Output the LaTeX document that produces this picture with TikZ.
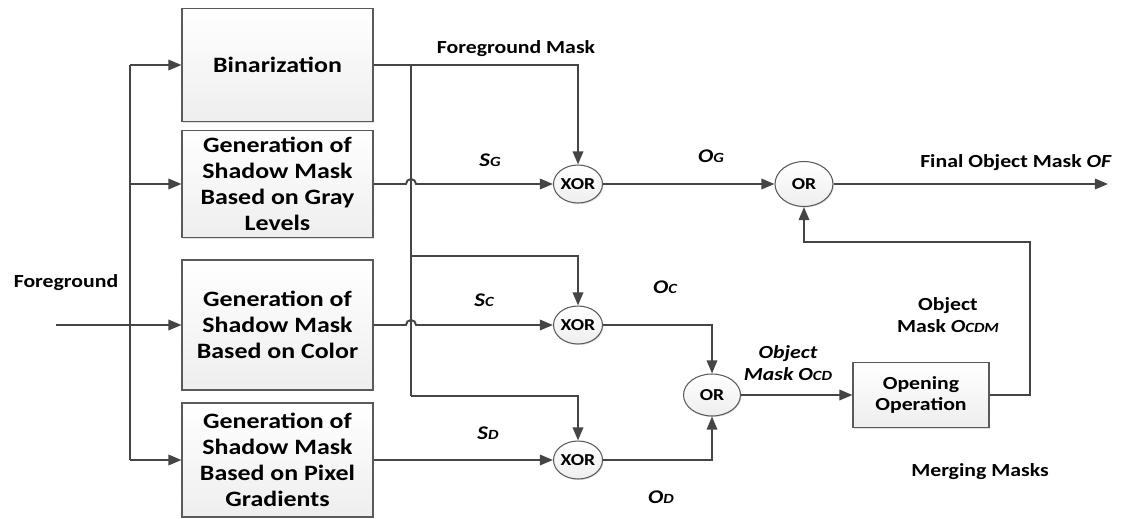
\documentclass[tikz,border=0pt]{standalone}
\usepackage{fontspec}
\setmainfont{Carlito}[FakeStretch=1.18]
\usetikzlibrary{arrows.meta,shapes.geometric,shadows,positioning}

\definecolor{linegray}{HTML}{454545}
\definecolor{edgegray}{HTML}{5A5A5A}
\definecolor{boxgray}{HTML}{EEEEEE}

% signal name with a small capital index
\newcommand{\sigidx}[2]{#1{\fontsize{8}{9}\selectfont #2}}

\tikzset{
    line/.style={draw=linegray, line width=1.1pt},
    arr/.style={line, -{Triangle[length=7.5pt,width=6pt]}},
    procbox/.style={draw=edgegray, line width=0.6pt, top color=white, bottom color=boxgray,
        drop shadow={shadow xshift=0.8pt, shadow yshift=-0.8pt, opacity=0.25},
        align=center, inner sep=0pt, minimum width=3.82cm,
        font=\fontsize{12.5}{14.7}\selectfont\bfseries},
    gate/.style={ellipse, draw=edgegray, line width=0.6pt, top color=white, bottom color=boxgray,
        drop shadow={shadow xshift=0.6pt, shadow yshift=-0.6pt, opacity=0.25},
        inner sep=0pt, font=\fontsize{9.5}{11}\selectfont\bfseries},
    lbl/.style={align=center, inner sep=0pt, font=\fontsize{10.5}{12.5}\selectfont\bfseries},
    sig/.style={inner sep=0pt, font=\fontsize{11}{13}\selectfont\bfseries\itshape},
}

\begin{document}
\begin{tikzpicture}[x=0.02cm,y=-0.02cm]
    \useasboundingbox (0,0) rectangle (1133,518);

    % processing blocks
    \node[procbox, minimum height=2.26cm] (bin)   at (277.5,65)  {Binarization};
    \node[procbox, minimum height=2.14cm] (gray)  at (277.5,184) {Generation of\\Shadow Mask\\Based on Gray\\Levels};
    \node[procbox, minimum height=2.60cm] (color) at (277.5,325) {Generation of\\Shadow Mask\\Based on Color};
    \node[procbox, minimum height=2.28cm] (pixel) at (277.5,460) {Generation of\\Shadow Mask\\Based on Pixel\\Gradients};

    % logic gates
    \node[gate, minimum width=0.98cm, minimum height=0.76cm] (xorg) at (578,184) {XOR};
    \node[gate, minimum width=0.98cm, minimum height=0.76cm] (xorc) at (578,325) {XOR};
    \node[gate, minimum width=0.98cm, minimum height=0.76cm] (xord) at (578,460) {XOR};
    \node[gate, minimum width=1.16cm, minimum height=0.90cm] (org)  at (804,184) {OR};
    \node[gate, minimum width=1.14cm, minimum height=0.84cm] (orcd) at (712,395) {OR};

    \node[procbox, minimum width=2.72cm, minimum height=1.30cm,
          font=\fontsize{10.5}{11.9}\selectfont\bfseries] (open) at (921,395) {Opening\\Operation};

    % input bus
    \coordinate (fgin)   at (56,325);
    \coordinate (bustop) at (130,65);
    \coordinate (busbot) at (130,460);
    \draw[line] (bustop) -- (busbot);
    \draw[arr] (fgin) -- (color);
    \draw[arr] (bustop) -- (bin);
    \draw[arr] (bustop |- gray) -- (gray);
    \draw[arr] (busbot) -- (pixel);

    % foreground mask bus
    \coordinate (ftop) at (411,65);
    \coordinate (fmid) at (411,256);
    \coordinate (fbot) at (411,396);
    \draw[arr] (bin) -| (xorg);
    \draw[line] (ftop) -- (fbot);
    \draw[arr] (fmid) -| (xorc);
    \draw[arr] (fbot) -| (xord);

    % shadow masks into the gates, hopping over the bus
    \draw[arr] (gray.east) -- ([xshift=-0.1cm]ftop |- gray.east)
        arc[start angle=180, end angle=360, radius=5] -- (xorg);
    \draw[arr] (color.east) -- ([xshift=-0.1cm]ftop |- color.east)
        arc[start angle=180, end angle=360, radius=5] -- (xorc);
    \draw[arr] (pixel) -- (xord);

    % merging
    \coordinate (fout)  at (1108,184);
    \coordinate (loopc) at (1030,242);
    \draw[arr] (xorg) -- (org);
    \draw[arr] (org) -- (fout);
    \draw[arr] (xorc) -| (orcd);
    \draw[arr] (xord) -| (orcd);
    \draw[arr] (orcd) -- (open);
    \draw[arr] (open.east) -| (loopc) -| (org);

    % labels
    \node[lbl] (lfg)    at (66,283)   {Foreground};
    \node[lbl] (lfm)    at (516,49)   {Foreground Mask};
    \node[lbl] (lfinal) at (1016,163) {Final Object Mask \textit{OF}};
    \node[lbl] (locdm)  at (948,315)  {Object\\Mask \textit{\sigidx{O}{CDM}}};
    \node[lbl] (lmerge) at (980,472)  {Merging Masks};
    \node[lbl, font=\fontsize{10.5}{12.5}\selectfont\bfseries\itshape] (locd) at (788,363) {Object\\Mask \sigidx{O}{CD}};
    \node[sig] (lsg) at (490,160) {\sigidx{S}{G}};
    \node[sig] (log) at (711,156) {\sigidx{O}{G}};
    \node[sig] (lsc) at (484,300) {\sigidx{S}{C}};
    \node[sig] (loc) at (665,287) {\sigidx{O}{C}};
    \node[sig] (lsd) at (488,433) {\sigidx{S}{D}};
    \node[sig] (lod) at (661,497) {\sigidx{O}{D}};
\end{tikzpicture}
\end{document}
